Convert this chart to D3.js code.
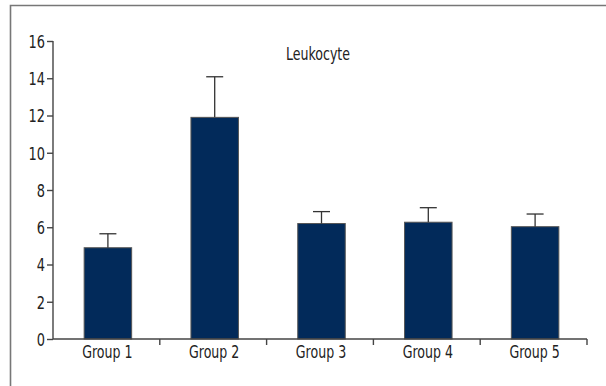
<!DOCTYPE html>
<html>
<head>
<meta charset="utf-8">
<script src="https://cdn.jsdelivr.net/npm/d3@7"></script>
<style>
  html, body { margin: 0; padding: 0; background: #fff; }
  svg { display: block; }
  text { font-family: "DejaVu Sans Condensed", "Liberation Sans Narrow", sans-serif; fill: #222; }
</style>
</head>
<body>
<svg id="chart" width="606" height="386"></svg>
<script>
// Leukocyte counts per group: mean and upper error (mean + SD)
const groups = ["Group 1", "Group 2", "Group 3", "Group 4", "Group 5"];
const means = [4.9, 11.9, 6.2, 6.27, 6.03];
const upper = [5.65, 14.08, 6.84, 7.05, 6.71];
const yTicks = [0, 2, 4, 6, 8, 10, 12, 14, 16];
const title = "Leukocyte";

const svg = d3.select("#chart");

// narrow the glyphs horizontally around each text's own anchor point
const SX = 0.8;
function condense(sel) {
  sel.each(function () {
    const t = d3.select(this);
    const tx = +t.attr("x") || 0, ty = +t.attr("y") || 0;
    t.attr("x", 0).attr("y", 0)
     .attr("transform", `translate(${tx},${ty}) scale(${SX},1)`);
  });
}

// outer frame (left and top edges visible)
svg.append("path")
  .attr("d", "M10.5,386V5.5H606")
  .attr("fill", "none").attr("stroke", "#777").attr("stroke-width", 1.6);

const plotL = 53, plotR = 587, plotT = 41, plotB = 339;

const x = d3.scaleBand().domain(groups).range([plotL, plotR]).paddingInner(0).paddingOuter(0);
const y = d3.scaleLinear().domain([0, 16]).range([plotB, plotT]);

const barW = 47.5;
const data = groups.map((g, i) => ({ g, m: means[i], u: upper[i] }));
const cx = d => x(d.g) + x.bandwidth() / 2 + 1.5;

// bars
svg.append("g").selectAll("rect").data(data).join("rect")
  .attr("x", d => cx(d) - barW / 2)
  .attr("y", d => y(d.m))
  .attr("width", barW)
  .attr("height", d => y(0) - y(d.m))
  .attr("fill", "#022a5a")
  .attr("stroke", "#555")
  .attr("stroke-width", 1);

// error bars (upper only)
const eb = svg.append("g").attr("stroke", "#333").attr("stroke-width", 1.3);
eb.selectAll("line.v").data(data).join("line").attr("class", "v")
  .attr("x1", cx).attr("x2", cx)
  .attr("y1", d => y(d.m)).attr("y2", d => y(d.u));
eb.selectAll("line.c").data(data).join("line").attr("class", "c")
  .attr("x1", d => cx(d) - 8.5).attr("x2", d => cx(d) + 8.5)
  .attr("y1", d => y(d.u)).attr("y2", d => y(d.u));

// y axis
const yAxis = svg.append("g").attr("transform", `translate(${plotL},0)`)
  .call(d3.axisLeft(y).tickValues(yTicks).tickSize(6).tickPadding(3).tickFormat(d3.format("d")));
yAxis.select(".domain").attr("d", `M0,${plotT}V${plotB}`);
yAxis.selectAll("text").attr("font-size", 18).attr("fill", "#222").attr("x", -8).attr("dy", "0.36em");
condense(yAxis.selectAll("text"));

// x axis: ticks at category boundaries
const xAxisG = svg.append("g").attr("transform", `translate(0,${plotB})`);
xAxisG.append("path").attr("class", "domain")
  .attr("d", `M${plotL},0H${plotR}`);
const bounds = groups.map(g => x(g)).concat([plotR]);
xAxisG.selectAll("line.tick").data(bounds.slice(1)).join("line").attr("class", "tick")
  .attr("x1", d => d).attr("x2", d => d).attr("y1", 0).attr("y2", 6);
xAxisG.selectAll("text").data(groups).join("text")
  .attr("x", g => x(g) + x.bandwidth() / 2 + 1)
  .attr("y", 19)
  .attr("text-anchor", "middle")
  .attr("font-size", 17.5)
  .text(g => g)
  .call(condense);

svg.selectAll(".domain, .tick line, line.tick")
  .attr("stroke", "#444").attr("stroke-width", 1.4).attr("fill", "none");

// title
svg.append("text")
  .attr("x", 318).attr("y", 60)
  .attr("text-anchor", "middle")
  .attr("font-size", 17.5)
  .text(title)
  .call(condense);
</script>
</body>
</html>
